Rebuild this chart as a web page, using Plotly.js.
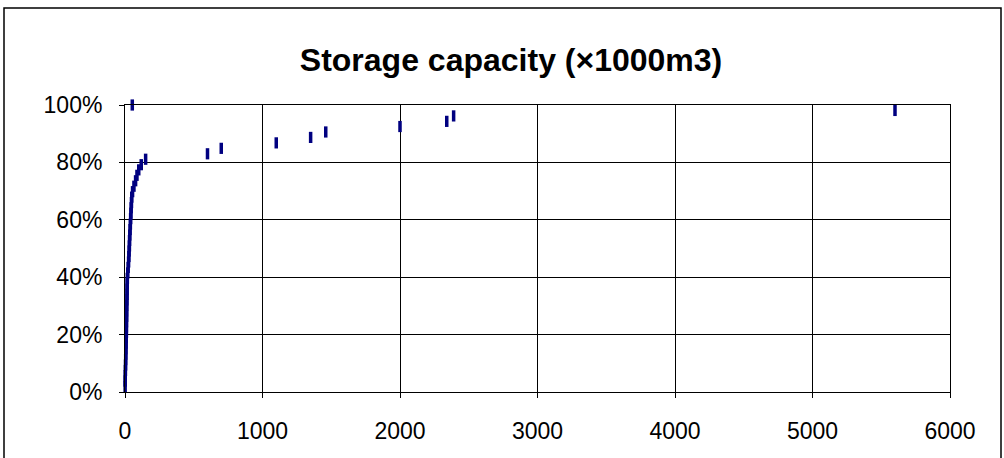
<!DOCTYPE html>
<html>
<head>
<meta charset="utf-8">
<script src="https://cdn.plot.ly/plotly-3.0.1.min.js"></script>
<style>
html,body{margin:0;padding:0;background:#fff;}
#chart{width:1004px;height:458px;}
</style>
</head>
<body>
<div id="chart"></div>
<script>
// Storage capacity (x1000 m3) — cumulative share of reservoirs
const capacity = [
  1, 1, 2, 3, 4, 5, 6, 7, 8, 9,
  10, 10, 11, 12, 12, 13, 14, 15, 15, 16,
  17, 20, 23, 26, 28, 30, 32, 33, 35, 37,
  39, 41, 43, 45, 47, 49, 55, 65, 77, 87,
  100, 118, 150, 600, 700, 1100, 1350, 1460, 2000, 2340,
  2390, 5600, 53
];
const cumulativeShare = [
  0.019, 0.038, 0.057, 0.075, 0.094, 0.113, 0.132, 0.151, 0.170, 0.189,
  0.208, 0.226, 0.245, 0.264, 0.283, 0.302, 0.321, 0.340, 0.358, 0.377,
  0.396, 0.415, 0.434, 0.453, 0.472, 0.491, 0.509, 0.528, 0.547, 0.566,
  0.585, 0.604, 0.623, 0.642, 0.660, 0.679, 0.698, 0.717, 0.736, 0.755,
  0.774, 0.792, 0.811, 0.830, 0.849, 0.868, 0.887, 0.906, 0.925, 0.943,
  0.962, 0.981, 1.000
];
const xTicks = [0, 1000, 2000, 3000, 4000, 5000, 6000];
const yTicks = [0, 0.2, 0.4, 0.6, 0.8, 1.0];
const chartTitle = 'Storage capacity (×1000m3)';

const font = 'Liberation Sans, Arial, sans-serif';

const trace = {
  type: 'scatter',
  mode: 'markers',
  x: capacity,
  y: cumulativeShare,
  marker: {
    symbol: 'line-ns',
    size: 8,
    color: '#000080',
    line: {color: '#000080', width: 3.5}
  },
  hoverinfo: 'x+y',
  showlegend: false,
  cliponaxis: false
};

const layout = {
  width: 1004,
  height: 458,
  paper_bgcolor: '#ffffff',
  plot_bgcolor: '#ffffff',
  margin: {l: 125, r: 54, t: 105, b: 66},
  title: {
    text: '<b>' + chartTitle + '</b>',
    font: {family: font, size: 32, color: '#000'},
    xref: 'container', x: 0.509, xanchor: 'center',
    yref: 'container', y: 0.869, yanchor: 'middle'
  },
  xaxis: {
    range: [0, 6000],
    tickvals: xTicks,
    ticktext: xTicks.map(String),
    showgrid: true, gridcolor: '#000', gridwidth: 1,
    zeroline: false,
    showline: true, linecolor: '#000', linewidth: 1, mirror: true,
    ticks: 'outside', ticklen: 5, tickcolor: '#000', tickwidth: 1,
    ticklabelstandoff: 13,
    tickfont: {family: font, size: 23, color: '#000'},
    fixedrange: true
  },
  yaxis: {
    range: [0, 1],
    tickvals: yTicks,
    tickformat: '.0%',
    showgrid: true, gridcolor: '#000', gridwidth: 1,
    zeroline: false,
    showline: true, linecolor: '#000', linewidth: 1, mirror: true,
    ticks: 'outside', ticklen: 5, tickcolor: '#000', tickwidth: 1,
    ticklabelstandoff: 12,
    tickfont: {family: font, size: 23, color: '#000'},
    fixedrange: true
  },
  shapes: [{
    type: 'rect',
    xref: 'paper', yref: 'paper',
    x0: (4 - 125) / 825, x1: (1001 - 125) / 825,
    y0: (392 - 470) / 287, y1: (392 - 8) / 287,
    line: {color: '#000', width: 1.5},
    fillcolor: 'rgba(0,0,0,0)',
    layer: 'below'
  }]
};

Plotly.newPlot('chart', [trace], layout, {staticPlot: true, displayModeBar: false});
</script>
</body>
</html>
